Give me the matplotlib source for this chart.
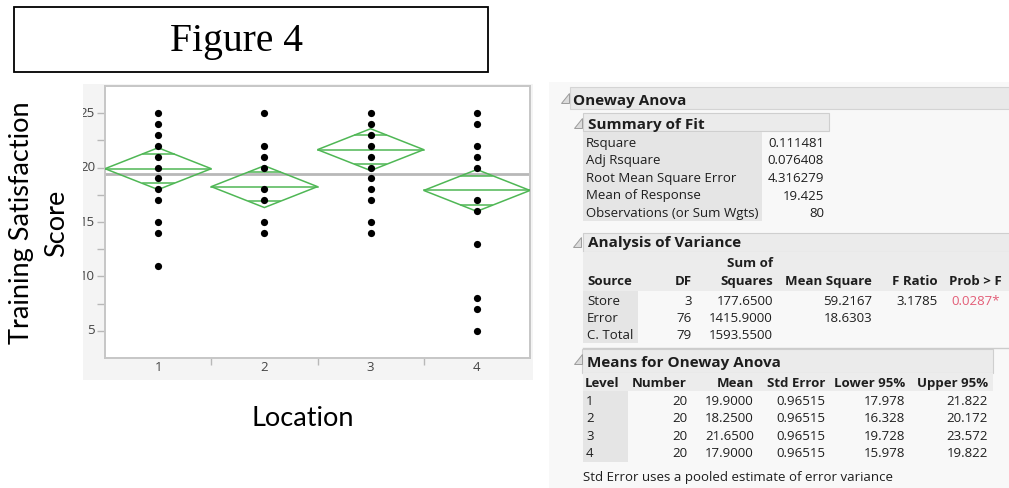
import numpy as np
import matplotlib
matplotlib.use("Agg")
import matplotlib.pyplot as plt
from matplotlib.patches import Rectangle, Polygon

W, H = 1009, 488

# Training satisfaction scores at each store location
locations = [1, 2, 3, 4]
scores_loc1 = [25, 24, 23, 22, 21, 20, 19, 18, 17, 15, 14, 11]
scores_loc2 = [25, 22, 21, 20, 18, 17, 15, 14]
scores_loc3 = [25, 24, 23, 22, 21, 20, 19, 18, 17, 15, 14]
scores_loc4 = [25, 24, 22, 21, 20, 17, 16, 13, 8, 7, 5]
y_ticks = [5, 10, 15, 20, 25]

# Summary of fit
fit_labels = ["Rsquare", "Adj Rsquare", "Root Mean Square Error",
              "Mean of Response", "Observations (or Sum Wgts)"]
fit_values = ["0.111481", "0.076408", "4.316279", "19.425", "80"]
grand_mean = 19.425

# Analysis of variance
anova_sources = ["Store", "Error", "C. Total"]
anova_df = [3, 76, 79]
anova_ss = [177.65, 1415.90, 1593.55]
anova_ms = [59.2167, 18.6303]
f_ratio = 3.1785
prob_f = 0.0287

# Means for oneway ANOVA
levels = ["1", "2", "3", "4"]
level_n = [20, 20, 20, 20]
level_means = [19.90, 18.25, 21.65, 17.90]
level_std_err = [0.96515, 0.96515, 0.96515, 0.96515]
lower95 = [17.978, 16.328, 19.728, 15.978]
upper95 = [21.822, 20.172, 23.572, 19.822]

UI = ["Open Sans", "DejaVu Sans"]
DOC = ["Lato", "DejaVu Sans"]
GREEN = "#4fb755"

fig = plt.figure(figsize=(W / 100, H / 100), dpi=100)
fig.patch.set_facecolor("white")

# Pixel-space canvas for boxes, tables and labels
bg = fig.add_axes([0, 0, 1, 1], zorder=0)
bg.set_xlim(0, W)
bg.set_ylim(H, 0)
bg.axis("off")


def box(x0, y0, x1, y1, fc, ec="none", lw=0.0, z=1):
    bg.add_patch(Rectangle((x0, y0), x1 - x0, y1 - y0, facecolor=fc,
                           edgecolor=ec, linewidth=lw, zorder=z))


def disclosure(x, y):
    bg.add_patch(Polygon([(x, y + 10), (x + 8, y + 10), (x + 8, y)], closed=True,
                         facecolor="#dcdcdc", edgecolor="#9c9c9c", linewidth=0.7, zorder=3))


def txt(x, y, s, ha="left", bold=False, size=9.5, color="#1e1e1e"):
    bg.text(x, y, s, ha=ha, va="baseline", fontsize=size, family=UI,
            fontweight="bold" if bold else "normal", color=color, zorder=4)


# Caption box
box(14, 7, 488, 72, fc="white", ec="black", lw=1.3)
bg.text(237, 41, "Figure 4", ha="center", va="center", fontsize=28.5,
        family=["Liberation Serif", "DejaVu Serif"], color="black", zorder=4)

# Axis titles
bg.text(22, 223, "Training Satisfaction", rotation=90, ha="center", va="center",
        fontsize=19.5, family=DOC, color="black")
bg.text(57, 223, "Score", rotation=90, ha="center", va="center",
        fontsize=19.5, family=DOC, color="black")
bg.text(303, 418, "Location", ha="center", va="center", fontsize=19.5,
        family=DOC, color="black")

# Graph frame background
box(83, 84, 533, 380, fc="#f4f4f4", z=0)

# ---- Oneway plot ----
ax = fig.add_axes([105 / W, 1 - 358 / H, 425 / W, 272 / H], zorder=2)
ax.set_facecolor("white")
ax.set_xlim(0.5, 4.5)
ax.set_ylim(2.5, 27.5)
for sp in ax.spines.values():
    sp.set_color("#c6c6c6")
    sp.set_linewidth(1.4)

ax.axhline(grand_mean, color="#b8b8b8", lw=2.0, zorder=2)

for loc, m, lo, up in zip(locations, level_means, lower95, upper95):
    ax.add_patch(Polygon([(loc - 0.5, m), (loc, up), (loc + 0.5, m), (loc, lo)],
                         closed=True, fill=False, edgecolor=GREEN, linewidth=1.1, zorder=3))
    ax.plot([loc - 0.5, loc + 0.5], [m, m], color=GREEN, lw=1.1, zorder=3)
    d = (up - m) / np.sqrt(2)
    hw = 0.5 * (1 - d / (up - m))
    for yv in (m + d, m - d):
        ax.plot([loc - hw, loc + hw], [yv, yv], color=GREEN, lw=1.1, zorder=3)

for loc, vals in zip(locations, [scores_loc1, scores_loc2, scores_loc3, scores_loc4]):
    ax.scatter([loc] * len(vals), vals, s=27, color="black", linewidths=0, zorder=4)

ax.set_xticks(locations)
ax.set_xticklabels([str(v) for v in locations], fontsize=9.5, family=UI, color="#444444")
ax.set_xticks([1.5, 2.5, 3.5], minor=True)
ax.tick_params(axis="x", which="major", length=0, pad=2.5)
ax.tick_params(axis="x", which="minor", length=5, width=1, color="#b8b8b8", direction="out")

ax.set_yticks(y_ticks)
ax.set_yticklabels([])
ax.set_yticks([7.5, 12.5, 17.5, 22.5], minor=True)
ax.tick_params(axis="y", which="both", length=6, width=1, color="#b8b8b8", direction="out")

frame_clip = Rectangle((83, 84), 450, 296, transform=bg.transData)
for v in y_ticks:
    t = ax.text(-10 / 425, v, str(v), transform=ax.get_yaxis_transform(),
                ha="right", va="center", fontsize=9.5, family=UI, color="#444444")
    t.set_clip_on(True)
    t.set_clip_path(frame_clip)

# ---- Report panel ----
box(549, 82, W, H, fc="#f8f8f8", z=0)

box(570, 87, W + 2, 109, fc="#e9e9e9", ec="#d4d4d4", lw=0.8)
disclosure(561, 93)
txt(573, 104.5, "Oneway Anova", bold=True, size=11)

# Summary of Fit
box(583, 113, 829, 131, fc="#ebebeb", ec="#cfcfcf", lw=0.8)
disclosure(574, 118)
txt(588, 128.5, "Summary of Fit", bold=True, size=11)
box(583, 132, 762, 221, fc="#e5e5e5")
for i, (lab, val) in enumerate(zip(fit_labels, fit_values)):
    yb = 146.7 + 17.6 * i
    txt(586, yb, lab)
    txt(824, yb, val, ha="right")

# Analysis of Variance
box(583, 233, W + 2, 252, fc="#ebebeb", ec="#cfcfcf", lw=0.8)
disclosure(573, 237)
txt(588, 247, "Analysis of Variance", bold=True, size=11)
box(583, 252, W + 2, 291, fc="#ececec")
txt(773, 266.7, "Sum of", ha="right", bold=True)
anova_cols = [("Source", 587, "left"), ("DF", 692, "right"), ("Squares", 773, "right"),
              ("Mean Square", 872, "right"), ("F Ratio", 938, "right"), ("Prob > F", 1002, "right")]
for name, x, ha in anova_cols:
    txt(x, 285, name, ha=ha, bold=True)
box(583, 291, 638, 343, fc="#e5e5e5")
for i, src in enumerate(anova_sources):
    yb = 305 + 17 * i
    txt(587, yb, src)
    txt(692, yb, f"{anova_df[i]}", ha="right")
    txt(773, yb, f"{anova_ss[i]:.4f}", ha="right")
    if i < len(anova_ms):
        txt(872, yb, f"{anova_ms[i]:.4f}", ha="right")
txt(938, 305, f"{f_ratio:.4f}", ha="right")
txt(1000, 305, f"{prob_f:.4f}*", ha="right", color="#e35d77")
bg.plot([583, W], [348, 348], color="#cccccc", lw=1.0, zorder=2)

# Means for Oneway Anova
box(582, 349, 993, 373, fc="#ebebeb", ec="#cfcfcf", lw=0.8)
disclosure(574, 354)
txt(587, 366.7, "Means for Oneway Anova", bold=True, size=11)
box(583, 373, 993, 391, fc="#ececec")
means_cols = [("Level", 585, "left"), ("Number", 687, "right"), ("Mean", 754, "right"),
              ("Std Error", 825, "right"), ("Lower 95%", 905, "right"), ("Upper 95%", 988, "right")]
for name, x, ha in means_cols:
    txt(x, 386.7, name, ha=ha, bold=True)
box(583, 391, 628, 462, fc="#e5e5e5")
for i, lev in enumerate(levels):
    yb = 405 + 17.4 * i
    txt(586, yb, lev)
    txt(687, yb, f"{level_n[i]}", ha="right")
    txt(754, yb, f"{level_means[i]:.4f}", ha="right")
    txt(825, yb, f"{level_std_err[i]:.5f}", ha="right")
    txt(905, yb, f"{lower95[i]:.3f}", ha="right")
    txt(988, yb, f"{upper95[i]:.3f}", ha="right")
txt(583, 481.5, "Std Error uses a pooled estimate of error variance")

fig.savefig("out.png", dpi=100, facecolor="white")
